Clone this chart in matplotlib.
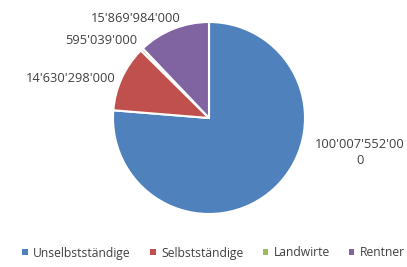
import matplotlib
matplotlib.use("Agg")
import matplotlib.pyplot as plt

categories = ["Unselbstständige", "Selbstständige", "Landwirte", "Rentner"]
values = [100007552000, 14630298000, 595039000, 15869984000]
value_labels = ["100'007'552'00\n0", "14'630'298'000", "595'039'000", "15'869'984'000"]
colors = ["#4F81BD", "#C0504D", "#9BBB59", "#8064A2"]

plt.rcParams['font.family'] = ['Open Sans', 'DejaVu Sans']
W, H = 407, 267
fig = plt.figure(figsize=(W / 100, H / 100), dpi=100)
cx, cy, r = 209, 149, 96  # pixel center (from bottom) and radius
ax = fig.add_axes([(cx - r) / W, (cy - r) / H, 2 * r / W, 2 * r / H])
wedges, texts = ax.pie(values, colors=colors, startangle=90, counterclock=False,
                       labels=value_labels, radius=1,
                       wedgeprops=dict(edgecolor="white", linewidth=1.5),
                       textprops=dict(color="#404040", fontsize=9.3))
ax.set_xlim(-1, 1)
ax.set_ylim(-1, 1)
ax.set_aspect("equal")
ax.axis("off")

# label positions (pixel coords from top-left)
pos_px = [(360, 153), (71, 78), (101, 40), (136, 18)]
for t, (px, py) in zip(texts, pos_px):
    t.set_position(((px - cx) / r, ((H - py) - cy) / r))
    t.set_ha("center")
    t.set_va("center")
    t.set_multialignment("center")
    t.set_linespacing(1.3)
    t.set_clip_on(False)

leg = fig.legend(wedges, categories, loc="center", bbox_to_anchor=(0.525, (H - 253) / H),
                 ncol=4, frameon=False, fontsize=8.7, handlelength=0.45, handleheight=0.45,
                 handletextpad=0.45, columnspacing=1.6, labelcolor="#404040")
for h in leg.legend_handles:
    h.set_edgecolor("none")

fig.savefig("out.png", dpi=100)
